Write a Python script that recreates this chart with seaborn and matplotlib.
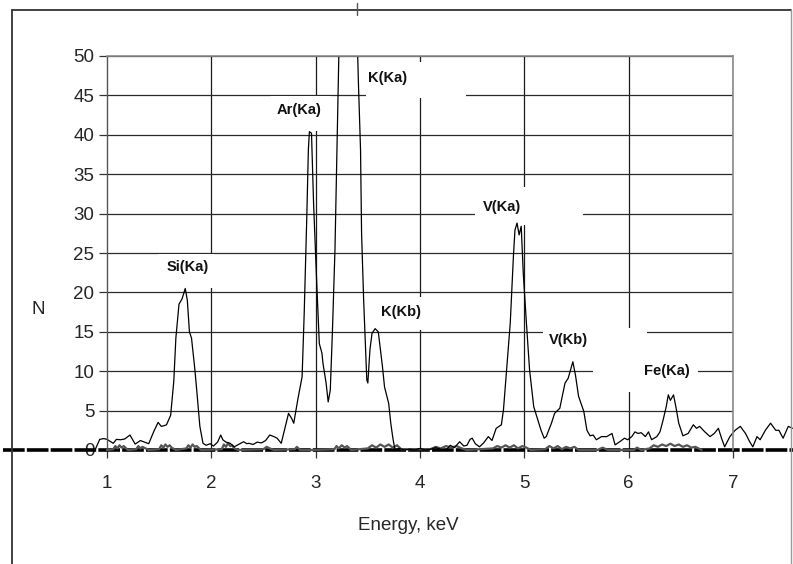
import matplotlib
matplotlib.use("Agg")
import matplotlib.pyplot as plt
from matplotlib.lines import Line2D
from matplotlib.patches import Rectangle
import seaborn as sns
import pandas as pd

# --- measured spectrum (energy in keV, counts N) ---
energy = [0.885, 0.93, 0.97, 1.00, 1.06, 1.09, 1.13, 1.17, 1.22, 1.27, 1.32, 1.36, 1.40,
          1.45, 1.49, 1.52, 1.55, 1.57, 1.61, 1.64, 1.66, 1.69, 1.72, 1.75, 1.77, 1.79,
          1.81, 1.84, 1.86, 1.89, 1.92, 1.95, 1.99, 2.02, 2.06, 2.09, 2.11, 2.14, 2.18,
          2.22, 2.26, 2.31, 2.34, 2.36, 2.40, 2.44, 2.48, 2.52, 2.56, 2.60, 2.63, 2.67,
          2.71, 2.74, 2.77, 2.79, 2.83, 2.87, 2.89, 2.915, 2.93, 2.94, 2.96, 2.98, 3.01,
          3.035, 3.06, 3.07, 3.10, 3.12, 3.14, 3.16, 3.185, 3.21, 3.24, 3.28, 3.31, 3.34,
          3.37, 3.41, 3.43, 3.44, 3.46, 3.49, 3.50, 3.52, 3.54, 3.57, 3.60, 3.64, 3.66,
          3.70, 3.72, 3.74, 3.76, 3.80, 3.85, 3.90, 3.95, 4.00, 4.05, 4.10, 4.15, 4.20,
          4.25, 4.29, 4.33, 4.38, 4.42, 4.45, 4.48, 4.50, 4.53, 4.57, 4.61, 4.655, 4.69,
          4.73, 4.78, 4.80, 4.83, 4.865, 4.895, 4.91, 4.93, 4.95, 4.97, 4.99, 5.02, 5.05,
          5.09, 5.12, 5.16, 5.19, 5.21, 5.26, 5.29, 5.34, 5.39, 5.42, 5.465, 5.49, 5.52,
          5.57, 5.60, 5.63, 5.66, 5.69, 5.74, 5.79, 5.84, 5.87, 5.92, 5.96, 5.99, 6.03,
          6.06, 6.09, 6.12, 6.16, 6.19, 6.22, 6.27, 6.30, 6.33, 6.36, 6.38, 6.40, 6.43,
          6.455, 6.48, 6.52, 6.57, 6.62, 6.65, 6.68, 6.73, 6.78, 6.82, 6.86, 6.89, 6.92,
          6.97, 7.02, 7.07, 7.12, 7.16, 7.19, 7.23, 7.26, 7.31, 7.36, 7.41, 7.44, 7.48,
          7.53, 7.57]
counts = [0.0, 1.35, 1.45, 1.35, 0.85, 1.35, 1.3, 1.4, 1.9, 0.75, 1.2, 1.0, 0.8,
          2.4, 3.5, 3.0, 3.1, 3.2, 4.4, 8.7, 14.2, 18.5, 19.2, 20.5, 19.0, 15.0,
          14.2, 10.5, 7.6, 3.0, 0.85, 0.6, 0.8, 0.5, 1.0, 1.9, 1.3, 1.0, 0.85,
          0.4, 0.7, 1.05, 0.8, 0.85, 0.7, 1.0, 0.9, 1.2, 1.9, 1.7, 1.5, 0.85,
          3.0, 4.65, 4.0, 3.4, 6.5, 9.3, 17.3, 29.6, 38.1, 40.4, 40.2, 31.3, 21.2,
          13.5, 12.3, 11.0, 8.5, 6.1, 7.6, 14.8, 25.4, 42.3, 62.0, 76.0, 80.0, 78.0,
          66.0, 46.5, 38.1, 27.5, 19.0, 8.9, 8.5, 12.7, 14.8, 15.4, 15.0, 10.6, 8.0,
          5.9, 3.4, 1.5, 0.0, 0.2, 0.0, 0.1, 0.0, 0.2, 0.0, 0.1, 0.3, 0.1,
          0.0, 0.6, 0.3, 1.05, 0.5, 0.6, 1.35, 1.5, 0.8, 0.4, 0.9, 1.7, 1.2,
          2.75, 3.2, 5.1, 10.2, 16.1, 24.5, 27.9, 28.8, 27.3, 28.4, 22.4, 16.1, 10.2,
          5.5, 4.2, 2.5, 1.5, 1.7, 3.4, 4.65, 5.3, 8.5, 9.1, 11.2, 9.5, 6.8,
          4.9, 2.5, 1.8, 1.9, 1.3, 1.7, 1.7, 2.1, 0.65, 1.1, 1.5, 1.3, 1.7,
          2.3, 2.1, 2.2, 1.7, 2.3, 1.3, 1.7, 2.3, 3.8, 5.5, 7.0, 6.3, 7.0,
          5.3, 3.4, 1.8, 2.1, 3.2, 2.75, 3.0, 2.3, 1.7, 2.1, 2.75, 1.5, 0.4,
          1.7, 2.5, 3.0, 2.1, 1.05, 0.4, 1.7, 1.3, 2.5, 3.4, 2.5, 2.5, 1.5,
          3.0, 2.75]

# --- background spectrum (grey trace) ---
bg_energy = [1.00, 1.06, 1.08, 1.10, 1.12, 1.14, 1.16, 1.20, 1.28, 1.30, 1.32, 1.34, 1.40,
             1.50, 1.52, 1.54, 1.56, 1.58, 1.60, 1.62, 1.66, 1.76, 1.78, 1.80, 1.82, 1.84,
             1.86, 1.90, 2.10, 2.12, 2.14, 2.16, 2.18, 2.20, 2.22, 2.26, 2.50, 2.53, 2.56,
             2.60, 2.80, 2.82, 2.85, 3.00, 3.18, 3.20, 3.22, 3.25, 3.28, 3.30, 3.34, 3.50,
             3.54, 3.58, 3.62, 3.66, 3.70, 3.74, 3.78, 3.82, 4.10, 4.15, 4.20, 4.25, 4.30,
             4.35, 4.40, 4.45, 4.70, 4.74, 4.78, 4.82, 4.86, 4.90, 4.94, 4.98, 5.02, 5.06,
             5.20, 5.24, 5.28, 5.32, 5.36, 5.40, 5.44, 5.48, 5.52, 5.70, 5.75, 5.80, 6.05,
             6.08, 6.12, 6.20, 6.24, 6.28, 6.32, 6.36, 6.40, 6.44, 6.48, 6.52, 6.56, 6.60,
             6.64, 6.70]
bg_counts = [0.0, 0.1, 0.5, 0.2, 0.6, 0.3, 0.5, 0.0, 0.1, 0.5, 0.2, 0.4, 0.0,
             0.1, 0.6, 0.3, 0.7, 0.4, 0.6, 0.3, 0.0, 0.2, 0.6, 0.3, 0.7, 0.4,
             0.5, 0.0, 0.1, 0.7, 0.4, 0.9, 0.5, 0.6, 0.2, 0.0, 0.1, 0.4, 0.2,
             0.0, 0.1, 0.4, 0.0, 0.0, 0.1, 0.5, 0.2, 0.6, 0.3, 0.5, 0.0, 0.2,
             0.6, 0.3, 0.7, 0.4, 0.7, 0.3, 0.6, 0.1, 0.1, 0.4, 0.2, 0.5, 0.3,
             0.5, 0.2, 0.0, 0.2, 0.5, 0.3, 0.6, 0.3, 0.6, 0.2, 0.5, 0.3, 0.0,
             0.1, 0.5, 0.2, 0.5, 0.1, 0.4, 0.2, 0.4, 0.0, 0.0, 0.3, 0.0, 0.0,
             0.3, 0.0, 0.2, 0.6, 0.4, 0.7, 0.5, 0.8, 0.5, 0.7, 0.4, 0.6, 0.3,
             0.4, 0.0]

# --- zero baseline drawn as a heavy dashed line ---
base_energy = [0.0, 7.6]
base_counts = [0.0, 0.0]

# --- axis tick values ---
x_ticks = [1, 2, 3, 4, 5, 6, 7]
y_ticks = [0, 5, 10, 15, 20, 25, 30, 35, 40, 45, 50]

# --- peak labels: text, (x, y) text centre, white box (x0, x1, y0, y1), in data units ---
peak_labels = ["Si(Ka)", "Ar(Ka)", "K(Ka)", "K(Kb)", "V(Ka)", "V(Kb)", "Fe(Ka)"]
label_xy = [(1.776, 23.2), (2.840, 43.1), (3.693, 47.2), (3.818, 17.5),
            (4.786, 30.8), (5.419, 14.0), (6.368, 10.0)]
label_box = [(1.49, 2.03, 20.6, 24.9), (2.56, 3.15, 40.5, 44.9), (3.48, 4.44, 44.7, 49.2),
             (3.56, 4.19, 15.2, 19.4), (4.53, 5.56, 28.6, 33.4), (5.18, 6.18, 11.5, 15.5),
             (5.66, 6.66, 7.4, 12.1)]

sns.set_theme(style="white")
plt.rcParams["font.family"] = ["Liberation Sans", "DejaVu Sans"]

W, H = 793, 564
fig = plt.figure(figsize=(W / 100, H / 100), dpi=100, facecolor="white")
ax = fig.add_axes([107 / W, 1 - 450 / H, 626 / W, 394 / H])
ax.set_facecolor("white")

ax.set_xlim(1, 7)
ax.set_ylim(0, 50)

# gridlines
for xv in x_ticks[1:]:
    ax.axvline(xv, color="#1a1a1a", lw=0.9, zorder=0.5)
for yv in y_ticks[1:]:
    ax.axhline(yv, color="#2a2a2a", lw=0.9, zorder=0.5)

# white label boxes hide the grid behind the labels
for (x0, x1, y0, y1) in label_box:
    ax.add_patch(Rectangle((x0, y0), x1 - x0, y1 - y0, facecolor="white",
                           edgecolor="none", zorder=1))

# clip region: plot height, but open on the left/right
clip = Rectangle((-1, -3), 10, 53, transform=ax.transData, facecolor="none")

df_base = pd.DataFrame({"E": base_energy, "N": base_counts})
df_bg = pd.DataFrame({"E": bg_energy, "N": bg_counts})
df_sp = pd.DataFrame({"E": energy, "N": counts})

sns.lineplot(data=df_base, x="E", y="N", ax=ax, color="black", lw=2.6,
             estimator=None, zorder=2)
sns.lineplot(data=df_bg, x="E", y="N", ax=ax, color="#555555", lw=1.6,
             estimator=None, zorder=2.5)
sns.lineplot(data=df_sp, x="E", y="N", ax=ax, color="black", lw=0.9,
             estimator=None, zorder=3)

lines = ax.get_lines()
spec_lines = lines[-3:]
spec_lines[0].set_dashes([6, 0.6])
for ln in spec_lines:
    ln.set_clip_path(clip)

for txt, (tx, ty) in zip(peak_labels, label_xy):
    ax.text(tx, ty, txt, ha="center", va="center", fontsize=10.5,
            fontweight="bold", color="#111111", zorder=4)

# axes frame
for side in ["top", "right"]:
    ax.spines[side].set_color("#8a8a8a")
    ax.spines[side].set_linewidth(1.2)
ax.spines["left"].set_color("#555555")
ax.spines["left"].set_linewidth(1.0)
ax.spines["bottom"].set_visible(False)
for sp in ax.spines.values():
    sp.set_zorder(5)

ax.set_xticks(x_ticks)
ax.set_yticks(y_ticks)
ax.tick_params(axis="y", direction="out", length=6, width=0.9, color="#333333",
               labelsize=13.5, pad=3, left=True)
ax.tick_params(axis="x", direction="out", length=6, width=0.9, color="#333333",
               labelsize=13.5, pad=12, bottom=True)

ax.set_xlabel("")
ax.set_ylabel("")
fig.text(408 / W, 1 - 525 / H, "Energy, keV", ha="center", va="center", fontsize=13.5)
fig.text(38 / W, 1 - 310 / H, "N", ha="center", va="center", fontsize=13.5)

# outer chart frame
frame_kw = dict(color="#333333", lw=1.3, transform=fig.transFigure)
fig.add_artist(Line2D([12 / W, 12 / W], [0, 1 - 10 / H], **frame_kw))
fig.add_artist(Line2D([12 / W, 791 / W], [1 - 10 / H, 1 - 10 / H], **frame_kw))
fig.add_artist(Line2D([791 / W, 791 / W], [0, 1 - 10 / H], color="#999999", lw=1.0,
                      transform=fig.transFigure))
fig.add_artist(Line2D([357 / W, 357 / W], [1 - 3 / H, 1 - 15 / H], color="#555555",
                      lw=1.0, transform=fig.transFigure))

fig.savefig("out.png", dpi=100, facecolor="white")
